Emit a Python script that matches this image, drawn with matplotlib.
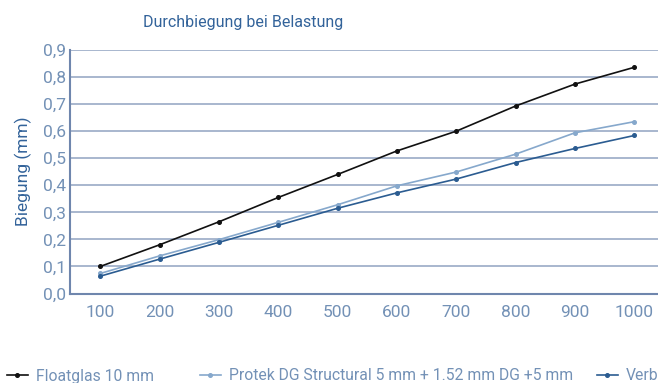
import matplotlib
matplotlib.use("Agg")
import matplotlib.pyplot as plt
from matplotlib.ticker import FixedLocator

plt.rcParams['font.family'] = ['Roboto', 'DejaVu Sans']

loads = [100, 200, 300, 400, 500, 600, 700, 800, 900, 1000]
x_labels = ["100", "200", "300", "400", "500", "600", "700", "800", "900", "1000"]
floatglas = [0.10, 0.18, 0.265, 0.355, 0.44, 0.527, 0.60, 0.693, 0.774, 0.836]
protek = [0.074, 0.139, 0.199, 0.263, 0.328, 0.398, 0.449, 0.515, 0.594, 0.635]
verb = [0.064, 0.127, 0.189, 0.252, 0.315, 0.372, 0.423, 0.484, 0.536, 0.584]
y_ticks = [0.0, 0.1, 0.2, 0.3, 0.4, 0.5, 0.6, 0.7, 0.8, 0.9]
y_labels = ["0,0", "0,1", "0,2", "0,3", "0,4", "0,5", "0,6", "0,7", "0,8", "0,9"]
series_names = ["Floatglas 10 mm",
                "Protek DG Structural 5 mm + 1.52 mm DG +5 mm",
                "Verb"]

tick_color = "#7391b6"
title_color = "#33639a"
grid_color = "#9aaac6"
spine_color = "#6f86ad"

fig = plt.figure(figsize=(6.58, 3.83), dpi=100)
ax = fig.add_axes([70/658, 1-293.5/383, 1-70/658, (293.5-50)/383])

l1, = ax.plot(loads, floatglas, color="#111111", lw=1.2, marker='o', ms=2.6)
l2, = ax.plot(loads, protek, color="#86a8cc", lw=1.2, marker='o', ms=2.6)
l3, = ax.plot(loads, verb, color="#2b5c91", lw=1.2, marker='o', ms=2.6)

ax.set_xlim(49, 1040)
ax.set_ylim(0, 0.9)
ax.xaxis.set_major_locator(FixedLocator(loads))
ax.set_xticklabels(x_labels)
ax.yaxis.set_major_locator(FixedLocator(y_ticks))
ax.set_yticklabels(y_labels)
ax.tick_params(axis='both', length=0, colors=tick_color, labelsize=12.5)
ax.tick_params(axis='x', pad=8)
ax.tick_params(axis='y', pad=3)

ax.grid(axis='y', color=grid_color, lw=1.2)
ax.set_axisbelow(True)
for s in ['top', 'right']:
    ax.spines[s].set_visible(False)
for s in ['left', 'bottom']:
    ax.spines[s].set_color(spine_color)
    ax.spines[s].set_linewidth(1.5)

ax.set_ylabel("Biegung (mm)", color=title_color, fontsize=12.5, labelpad=8)
fig.text(243/658, 1-22/383, "Durchbiegung bei Belastung", color=title_color,
         fontsize=11.5, ha='center', va='center')

# legend: one entry per anchor, matching the reference layout
anchors = [7/658, 200/658, 597/658]
for handle, name, xa in zip([l1, l2, l3], series_names, anchors):
    leg = fig.legend([handle], [name], loc='center left',
                     bbox_to_anchor=(xa, 1-376/383), frameon=False,
                     fontsize=11.3, handlelength=1.33, handletextpad=0.5,
                     borderpad=0, borderaxespad=0)
    for t in leg.get_texts():
        t.set_color(tick_color)

fig.savefig("out.png", dpi=100)
